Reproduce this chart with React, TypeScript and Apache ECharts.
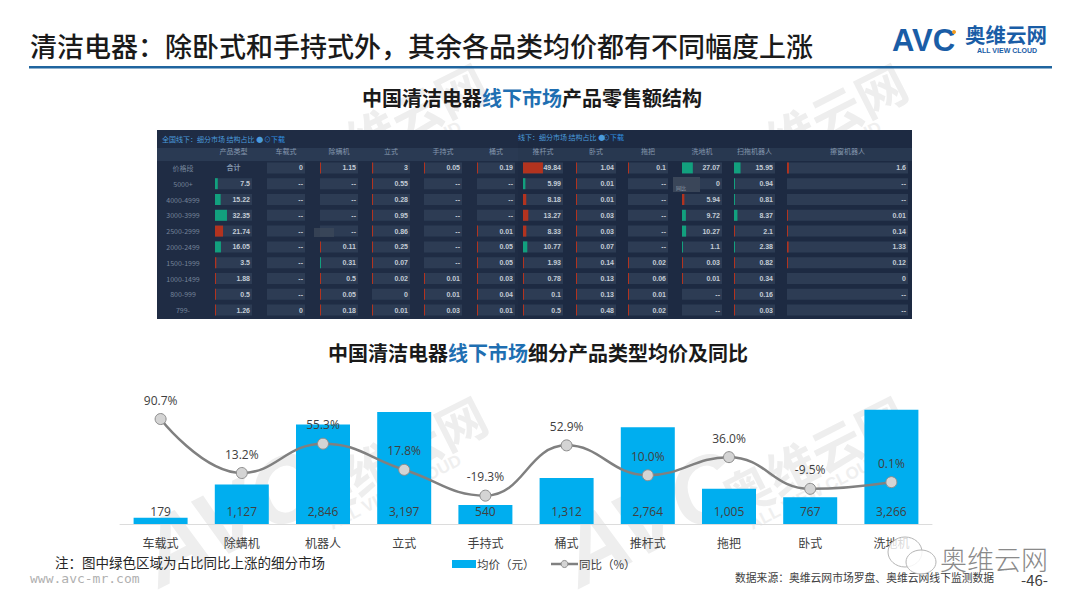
import React, { useEffect, useRef } from "react";
import * as echarts from "echarts";

const FONT = '"Noto Sans CJK SC", sans-serif';

// lower combo chart
const categories = ["车载式", "除螨机", "机器人", "立式", "手持式", "桶式", "推杆式", "拖把", "卧式", "洗地机"];
const avgPrice = [179, 1127, 2846, 3197, 540, 1312, 2764, 1005, 767, 3266];
const yoy = [90.7, 13.2, 55.3, 17.8, -19.3, 52.9, 10.0, 36.0, -9.5, 0.1];

// upper table: null means the cell shows "--"
const priceBands = ["价格段", "5000+", "4000-4999", "3000-3999", "2500-2999", "2000-2499", "1500-1999", "1000-1499", "800-999", "799-"];
const colType = [null, 7.5, 15.22, 32.35, 21.74, 16.05, 3.5, 1.88, 0.5, 1.26];
const colCar = [0, null, null, null, null, null, null, null, null, 0];
const colMite = [1.15, null, null, null, null, 0.11, 0.31, 0.5, 0.05, 0.18];
const colUpright = [3, 0.55, 0.28, 0.95, 0.86, 0.25, 0.07, 0.02, 0, 0.01];
const colHand = [0.05, null, null, null, null, null, null, 0.01, 0.01, 0.03];
const colBucket = [0.19, null, null, null, 0.01, 0.05, 0.05, 0.03, 0.04, 0.01];
const colStick = [49.84, 5.99, 8.18, 13.27, 8.33, 10.77, 1.93, 0.78, 0.1, 0.5];
const colLie = [1.04, 0.01, 0.01, 0.03, 0.03, 0.07, 0.14, 0.13, 0.13, 0.48];
const colMop = [0.1, null, null, null, null, null, 0.02, 0.06, 0.01, 0.02];
const colWasher = [27.07, 0, 5.94, 9.72, 10.27, 1.1, 0.03, 0.01, null, null];
const colRobot = [15.95, 0.94, 0.81, 8.37, 2.1, 2.38, 0.82, 0.34, 0.16, 0.03];
const colWindow = [1.6, null, null, 0.01, 0.14, 1.33, 0.12, 0, null, null];

const tableColumns = [
  { name: "产品类型", values: colType, rising: [1, 2, 3, 5], left: 215, width: 37 },
  { name: "车载式", values: colCar, rising: [], left: 267, width: 38 },
  { name: "除螨机", values: colMite, rising: [6], left: 320, width: 38 },
  { name: "立式", values: colUpright, rising: [], left: 372, width: 38 },
  { name: "手持式", values: colHand, rising: [], left: 424, width: 38 },
  { name: "桶式", values: colBucket, rising: [], left: 477, width: 38 },
  { name: "推杆式", values: colStick, rising: [1, 5], left: 523, width: 40 },
  { name: "卧式", values: colLie, rising: [], left: 576, width: 40 },
  { name: "拖把", values: colMop, rising: [], left: 628, width: 40 },
  { name: "洗地机", values: colWasher, rising: [0, 3, 4, 5], left: 682, width: 40 },
  { name: "扫拖机器人", values: colRobot, rising: [0, 1, 2, 3, 5], left: 734, width: 41 },
  { name: "擦窗机器人", values: colWindow, rising: [], left: 787, width: 121 },
];

const titleText = "清洁电器\uFF1A除卧式和手持式外\uFF0C其余各品类均价都有不同幅度上涨";
const noteText = "注\uFF1A图中绿色区域为占比同比上涨的细分市场";
const sourceText = "数据来源\uFF1A奥维云网市场罗盘、奥维云网线下监测数据";
const legendPrice = "均价\uFF08元\uFF09";
const legendYoy = "同比\uFF08%\uFF09";

const GREEN = "#12a07e";
const RED = "#b2331f";
const CELL = "#2d3c54";

function watermark(x: number, y: number, withAvc: boolean) {
  const kids: any[] = [
    { type: "text", z: -10, x: 0, y: 0, style: { text: "奥维云网", font: `bold 50px ${FONT}`, fill: "#eeeeee", textAlign: "center", textVerticalAlign: "middle" } },
    { type: "text", z: -10, x: -15, y: 34, style: { text: "ALL VIEW CLOUD", font: 'bold 17px "Liberation Sans"', fill: "#efefef", textAlign: "center", textVerticalAlign: "middle" } },
  ];
  if (withAvc) {
    kids.push({ type: "text", z: -10, x: -175, y: -18, style: { text: "AVC", font: 'italic bold 92px "Liberation Sans"', fill: "#eeeeee", textAlign: "center", textVerticalAlign: "middle" } });
  }
  return { type: "group", x, y, rotation: 0.47, children: kids };
}

function txt(text: string, x: number, y: number, size: number, fill: string, extra: any = {}, styleExtra: any = {}) {
  return {
    type: "text",
    x,
    y,
    ...extra,
    style: { text, fill, font: `${size}px ${FONT}`, textVerticalAlign: "middle", ...styleExtra },
  };
}

function buildOption() {
  const grids: any[] = [{ left: 120, width: 812, top: 384, height: 140 }];
  const xAxes: any[] = [
    {
      type: "category",
      gridIndex: 0,
      data: categories,
      axisTick: { show: false },
      axisLine: { lineStyle: { color: "#dcdcdc", width: 1 } },
      axisLabel: { color: "#404040", fontSize: 12, fontFamily: FONT, margin: 12 },
    },
  ];
  const yAxes: any[] = [
    { type: "value", gridIndex: 0, min: 0, max: 4000, show: false },
    { type: "value", gridIndex: 0, min: -60, max: 141, show: false },
  ];
  const series: any[] = [
    {
      name: legendPrice,
      type: "bar",
      xAxisIndex: 0,
      yAxisIndex: 0,
      data: avgPrice,
      barWidth: 54,
      itemStyle: { color: "#00aeef" },
      z: 2,
      label: {
        show: true,
        position: "insideBottom",
        distance: 7,
        color: "#404040",
        fontSize: 12,
        fontFamily: '"Open Sans", sans-serif',
        formatter: (p: any) => p.value.toLocaleString("en-US"),
      },
    },
    {
      name: legendYoy,
      type: "line",
      xAxisIndex: 0,
      yAxisIndex: 1,
      data: yoy,
      smooth: 0.45,
      symbol: "circle",
      symbolSize: 11,
      z: 3,
      lineStyle: { color: "#808080", width: 2.5 },
      itemStyle: { color: "#d4d4d4", borderColor: "#8c8c8c", borderWidth: 1 },
      label: {
        show: true,
        position: "top",
        distance: 7,
        color: "#404040",
        fontSize: 12,
        fontFamily: '"Open Sans", sans-serif',
        formatter: (p: any) => `${p.value.toFixed(1)}%`,
      },
    },
  ];

  tableColumns.forEach((col, i) => {
    const idx = i + 1;
    grids.push({ left: col.left, width: col.width, top: 160, height: 158 });
    xAxes.push({
      type: "value",
      gridIndex: idx,
      min: 0,
      max: 100,
      position: "top",
      name: col.name,
      nameLocation: "middle",
      nameGap: 6,
      nameTextStyle: { color: "#8497ae", fontSize: 7, fontFamily: FONT },
      axisLabel: { show: false },
      axisLine: { show: false },
      axisTick: { show: false },
      splitLine: { show: false },
    });
    yAxes.push({
      type: "category",
      gridIndex: idx,
      inverse: true,
      data: priceBands,
      axisLine: { show: false },
      axisTick: { show: false },
      axisLabel:
        i === 0
          ? { show: true, color: "#75849a", fontSize: 7, fontFamily: FONT, align: "center", margin: 32 }
          : { show: false },
    });
    series.push({
      type: "bar",
      xAxisIndex: idx,
      yAxisIndex: i + 2,
      barWidth: 11,
      barGap: "-100%",
      silent: true,
      z: 2,
      itemStyle: { color: CELL },
      data: col.values.map((v, r) => {
        const isTotalCell = i === 0 && r === 0;
        return {
          value: 100,
          itemStyle: isTotalCell ? { color: "transparent" } : undefined,
          label: {
            show: true,
            position: isTotalCell ? "inside" : "insideRight",
            distance: 2,
            color: isTotalCell ? "#8497ae" : "#c4ccd6",
            fontSize: 7,
            fontWeight: 600,
            fontFamily: '"Liberation Sans", ' + FONT,
            formatter: isTotalCell ? "合计" : v === null ? "--" : String(v),
          },
        };
      }),
    });
    series.push({
      type: "bar",
      xAxisIndex: idx,
      yAxisIndex: i + 2,
      barWidth: 11,
      barGap: "-100%",
      barMinHeight: 1,
      silent: true,
      z: 3,
      data: col.values.map((v, r) => ({
        value: v && v > 0 ? v : null,
        itemStyle: { color: col.rising.includes(r) ? GREEN : RED },
      })),
    });
  });

  const subRich = {
    k: { font: `bold 20px ${FONT}`, fill: "#1a1a1a" },
    b: { font: `bold 20px ${FONT}`, fill: "#1f6fb2" },
  };

  const graphic: any[] = [
    watermark(393, 455, true),
    watermark(813, 455, true),
    watermark(393, 122, false),
    watermark(813, 122, false),
    // header
    txt(titleText, 30, 45, 26, "#1a1a1a", {}, { font: `500 27px ${FONT}` }),
    { type: "rect", shape: { x: 29, y: 66, width: 1023, height: 2.4 }, style: { fill: "#1f659f" } },
    // logo
    { type: "text", x: 892, y: 40, style: { text: "AVC", font: 'bold 31px "Liberation Sans"', fill: "#1a5da6", textVerticalAlign: "middle" } },
    { type: "circle", shape: { cx: 954, cy: 32, r: 2 }, style: { fill: "#f29a1f" } },
    txt("奥维云网", 965, 34, 20.5, "#1a5da6", {}, { font: `bold 20.5px ${FONT}` }),
    { type: "text", x: 1007, y: 50, style: { text: "ALL VIEW CLOUD", font: 'bold 7px "Liberation Sans"', fill: "#1a5da6", textAlign: "center", textVerticalAlign: "middle" } },
    // sub-headings
    {
      type: "text", x: 362, y: 97,
      style: { rich: subRich, text: "{k|中国清洁电器}{b|线下市场}{k|产品零售额结构}", textVerticalAlign: "middle", font: `bold 20px ${FONT}` },
    },
    {
      type: "text", x: 328, y: 352,
      style: { rich: subRich, text: "{k|中国清洁电器}{b|线下市场}{k|细分产品类型均价及同比}", textVerticalAlign: "middle", font: `bold 20px ${FONT}` },
    },
    // table panels
    { type: "rect", z: -5, shape: { x: 157, y: 130, width: 361, height: 189 }, style: { fill: "#1f2c44" } },
    { type: "rect", z: -5, shape: { x: 518, y: 130, width: 394, height: 189 }, style: { fill: "#1d2a42" } },
    { type: "rect", z: -4, shape: { x: 157, y: 148, width: 361, height: 13 }, style: { fill: "#2a3a53" } },
    { type: "rect", z: -4, shape: { x: 518, y: 148, width: 394, height: 13 }, style: { fill: "#283850" } },
    txt("全国线下\uFF1A细分市场 结构占比 ●", 162, 139, 7, "#4a9bdc"),
    txt("⊙下载", 264, 139, 7, "#2f8fe0"),
    txt("线下\uFF1A细分市场 结构占比 ●", 518, 137, 7, "#4a9bdc"),
    txt("⊙下载", 603, 137, 7, "#2f8fe0"),
    { type: "rect", z: 20, shape: { x: 673, y: 177, width: 27, height: 15 }, style: { fill: "#3a4659" } },
    txt("同比", 676, 187, 5, "#9aa5b3", { z: 21 }),
    { type: "rect", z: 20, shape: { x: 314, y: 228, width: 20, height: 9 }, style: { fill: "#3b4759", opacity: 0.8 } },
    // footer
    txt(noteText, 55, 562, 13.5, "#262626"),
    { type: "rect", shape: { x: 452, y: 560, width: 24, height: 8 }, style: { fill: "#00aeef" } },
    txt(legendPrice, 477, 564, 11.5, "#404040"),
    { type: "line", shape: { x1: 551, y1: 564, x2: 578, y2: 564 }, style: { stroke: "#808080", lineWidth: 2.5 } },
    { type: "circle", shape: { cx: 564.5, cy: 564, r: 3.5 }, style: { fill: "#d4d4d4", stroke: "#8c8c8c", lineWidth: 1 } },
    txt(legendYoy, 579, 564, 11.5, "#404040"),
    { type: "text", x: 30, y: 578, style: { text: "www.avc-mr.com", font: '13px "DejaVu Sans Mono"', fill: "#b0b0b0", textVerticalAlign: "middle" } },
    txt(sourceText, 735, 577, 10.8, "#404040"),
    txt("-46-", 1021, 579, 15, "#404040"),
    // wechat badge over the last label
    { type: "ellipse", z: 30, shape: { cx: 905, cy: 552, rx: 17, ry: 15 }, style: { fill: "rgba(255,255,255,0.8)", stroke: "#b5b5b5", lineWidth: 1 } },
    { type: "ellipse", z: 31, shape: { cx: 921, cy: 562, rx: 15, ry: 12 }, style: { fill: "rgba(255,255,255,0.85)", stroke: "#b5b5b5", lineWidth: 1 } },
    txt("奥维云网", 940, 558, 27, "#8a8a8a", { z: 32 }, { font: `300 27px ${FONT}` }),
  ];

  return {
    animation: false,
    backgroundColor: "#ffffff",
    textStyle: { fontFamily: FONT },
    grid: grids,
    xAxis: xAxes,
    yAxis: yAxes,
    series,
    graphic: { elements: graphic },
  };
}

export default function App() {
  const ref = useRef<HTMLDivElement>(null);
  useEffect(() => {
    document.body.style.margin = "0";
    const chart = echarts.init(ref.current!, null, { renderer: "svg" });
    chart.setOption(buildOption() as any);
    return () => chart.dispose();
  }, []);
  return <div ref={ref} style={{ width: 1080, height: 608 }} />;
}
